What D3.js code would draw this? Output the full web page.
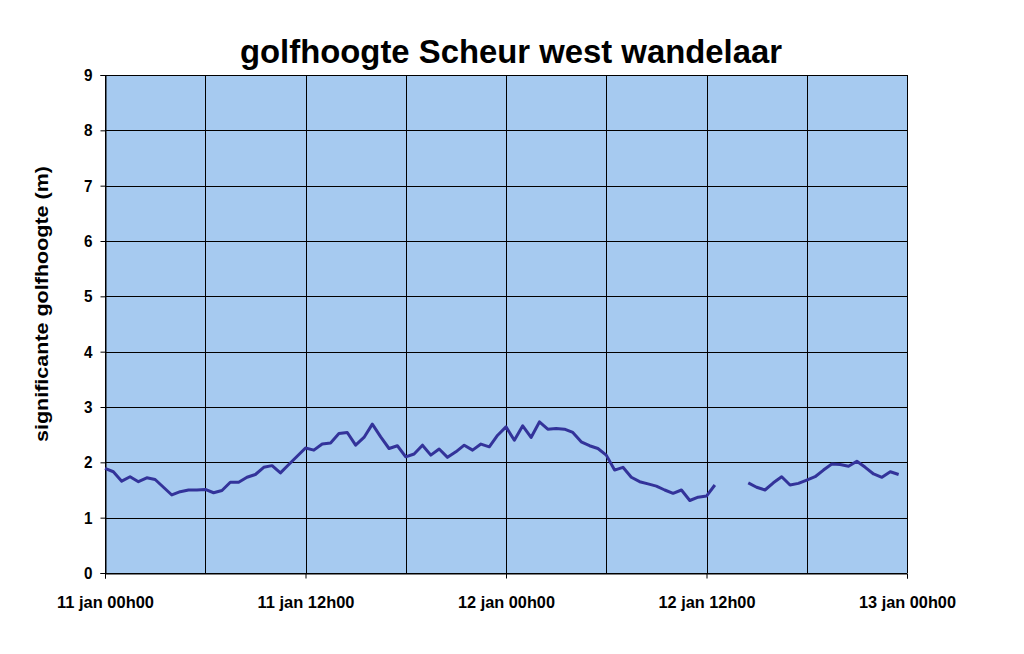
<!DOCTYPE html>
<html>
<head>
<meta charset="utf-8">
<script src="https://cdn.jsdelivr.net/npm/d3@7"></script>
<style>
  html, body { margin: 0; padding: 0; background: #ffffff; }
  svg { display: block; font-family: "Liberation Sans", Arial, sans-serif; }
</style>
</head>
<body>
<svg id="chart" width="1024" height="654"></svg>
<script>
// ---- data (half-hourly samples starting 11 jan 00h00) ----
const title = "golfhoogte Scheur west wandelaar";
const yTitle = "significante golfhoogte (m)";
const xTickHours = [0, 12, 24, 36, 48];
const xTickLabels = ["11 jan 00h00", "11 jan 12h00", "12 jan 00h00", "12 jan 12h00", "13 jan 00h00"];
const xGridHours = [0, 6, 12, 18, 24, 30, 36, 42, 48];
const yTicks = [0, 1, 2, 3, 4, 5, 6, 7, 8, 9];
const waveHeight = [
  1.89, 1.83, 1.66, 1.74, 1.65, 1.72, 1.69, 1.55, 1.41, 1.47, 1.50, 1.50,
  1.51, 1.45, 1.49, 1.64, 1.64, 1.73, 1.78, 1.91, 1.94, 1.81, 1.96, 2.11,
  2.26, 2.22, 2.33, 2.35, 2.52, 2.54, 2.31, 2.45, 2.69, 2.46, 2.25, 2.30,
  2.10, 2.15, 2.31, 2.13, 2.24, 2.09, 2.19, 2.31, 2.22, 2.33, 2.28, 2.49,
  2.64, 2.40, 2.66, 2.45, 2.73, 2.60, 2.61, 2.60, 2.54, 2.37, 2.30, 2.25,
  2.13, 1.86, 1.91, 1.73, 1.65, 1.61, 1.57, 1.50, 1.44, 1.50, 1.31, 1.37,
  1.39, 1.59, null, null, null, 1.63, 1.55, 1.50, 1.63, 1.74, 1.59, 1.62,
  1.68, 1.74, 1.86, 1.97, 1.96, 1.93, 2.02, 1.91, 1.79, 1.73, 1.83, 1.78
];
const sampleHours = waveHeight.map((_, i) => i * 0.5);

// ---- layout ----
const svg = d3.select("#chart");
const pLeft = 105, pRight = 907, pTop = 75, pBottom = 573;
const x = d3.scaleLinear().domain([0, 48]).range([pLeft, pRight]);
const y = d3.scaleLinear().domain([0, 9]).range([pBottom, pTop]);

// plot background
svg.append("rect")
  .attr("x", pLeft).attr("y", pTop)
  .attr("width", pRight - pLeft).attr("height", pBottom - pTop)
  .attr("fill", "#A6CAF0");

// grid lines
svg.append("g").selectAll("line").data(yTicks).join("line")
  .attr("x1", pLeft).attr("x2", pRight)
  .attr("y1", d => Math.round(y(d)) + 0.5).attr("y2", d => Math.round(y(d)) + 0.5)
  .attr("stroke", "#000").attr("stroke-width", 1);
svg.append("g").selectAll("line").data(xGridHours).join("line")
  .attr("y1", pTop).attr("y2", pBottom)
  .attr("x1", d => Math.round(x(d)) + 0.5).attr("x2", d => Math.round(x(d)) + 0.5)
  .attr("stroke", "#000").attr("stroke-width", 1);

// y axis
const yAxis = svg.append("g")
  .attr("transform", `translate(${pLeft + 0.5},0)`)
  .call(d3.axisLeft(y).tickValues(yTicks).tickSize(5).tickPadding(8).tickFormat(d3.format("d")));
yAxis.select(".domain").attr("stroke", "#000");
yAxis.selectAll(".tick line").attr("stroke", "#000");
yAxis.selectAll("text")
  .attr("font-size", 17).attr("font-weight", "bold").attr("fill", "#000")
  .attr("font-family", "Liberation Sans, Arial, sans-serif")
  .attr("textLength", 8.5).attr("lengthAdjust", "spacingAndGlyphs");

// x axis
const xAxis = svg.append("g")
  .attr("transform", `translate(0,${pBottom + 0.5})`)
  .call(d3.axisBottom(x).tickValues(xTickHours).tickSize(5).tickPadding(17)
    .tickFormat((d, i) => xTickLabels[i]));
xAxis.select(".domain").attr("stroke", "#000");
xAxis.selectAll(".tick line").attr("stroke", "#000");
xAxis.selectAll("text")
  .attr("font-size", 17).attr("font-weight", "bold").attr("fill", "#000")
  .attr("font-family", "Liberation Sans, Arial, sans-serif")
  .attr("textLength", 97).attr("lengthAdjust", "spacingAndGlyphs");

// data line
const line = d3.line()
  .defined(d => d[1] != null)
  .x(d => x(d[0]))
  .y(d => y(d[1]));
svg.append("path")
  .datum(sampleHours.map((h, i) => [h, waveHeight[i]]))
  .attr("d", line)
  .attr("fill", "none")
  .attr("stroke", "#33339A")
  .attr("stroke-width", 3)
  .attr("stroke-linejoin", "round");

// title
svg.append("text")
  .attr("x", 511).attr("y", 63)
  .attr("text-anchor", "middle")
  .attr("font-size", 34).attr("font-weight", "bold").attr("fill", "#000")
  .attr("textLength", 542).attr("lengthAdjust", "spacingAndGlyphs")
  .text(title);

// y axis title
svg.append("text")
  .attr("transform", "translate(48,304) rotate(-90)")
  .attr("text-anchor", "middle")
  .attr("font-size", 19).attr("font-weight", "bold").attr("fill", "#000")
  .attr("textLength", 276).attr("lengthAdjust", "spacingAndGlyphs")
  .text(yTitle);
</script>
</body>
</html>
